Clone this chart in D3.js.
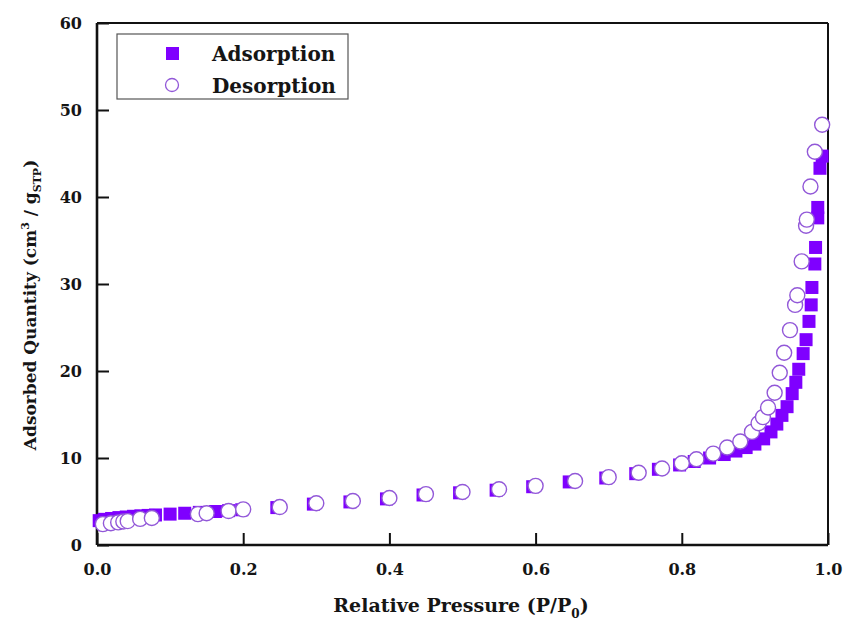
<!DOCTYPE html>
<html lang="en">
<head>
    <meta charset="UTF-8">
    <title>Isotherm</title>
    <style>
        body { margin: 0; background: #fff; }
        text { font-family: "DejaVu Serif", "Liberation Serif", serif; font-weight: bold; fill: #151515; }
    </style>
</head>
<body>
    <div id="chart"></div>
    <script src="https://d3js.org/d3.v7.min.js"></script>
    <script>
        // adsorption branch (P/P0, cm3/g STP)
        const adsP = [0.003, 0.01, 0.02, 0.03, 0.04, 0.05, 0.06, 0.07, 0.08, 0.1, 0.12, 0.14, 0.162, 0.18, 0.198,
                      0.246, 0.296, 0.346, 0.396, 0.446, 0.496, 0.546, 0.596, 0.646, 0.696, 0.737, 0.768, 0.797,
                      0.817, 0.838, 0.858, 0.874, 0.888, 0.9, 0.912, 0.922, 0.93, 0.937, 0.944, 0.951, 0.956,
                      0.96, 0.966, 0.97, 0.974, 0.977, 0.978, 0.982, 0.983, 0.986, 0.986, 0.989, 0.992];
        const adsQ = [2.8, 2.95, 3.05, 3.15, 3.22, 3.3, 3.35, 3.4, 3.45, 3.55, 3.65, 3.75, 3.85, 3.95, 4.05,
                      4.3, 4.7, 4.95, 5.3, 5.75, 6.0, 6.3, 6.7, 7.25, 7.7, 8.2, 8.7, 9.2,
                      9.6, 10.0, 10.4, 10.8, 11.2, 11.6, 12.2, 13.0, 13.9, 14.9, 15.9, 17.4, 18.7,
                      20.2, 22.0, 23.6, 25.7, 27.6, 29.6, 32.3, 34.2, 37.6, 38.8, 43.3, 44.7];

        // desorption branch
        const desP = [0.008, 0.019, 0.029, 0.036, 0.042, 0.059, 0.075, 0.138, 0.15, 0.18, 0.2,
                      0.25, 0.3, 0.35, 0.4, 0.45, 0.5, 0.55, 0.6, 0.654, 0.7, 0.741, 0.773, 0.8,
                      0.82, 0.843, 0.862, 0.88, 0.896, 0.905, 0.911, 0.918, 0.927, 0.934, 0.94, 0.948,
                      0.955, 0.958, 0.964, 0.97, 0.971, 0.976, 0.982, 0.992];
        const desQ = [2.4, 2.5, 2.6, 2.7, 2.75, 3.0, 3.1, 3.55, 3.65, 3.9, 4.1,
                      4.36, 4.8, 5.05, 5.4, 5.85, 6.1, 6.4, 6.8, 7.35, 7.8, 8.3, 8.8, 9.4,
                      9.85, 10.5, 11.2, 11.9, 13.0, 14.0, 14.7, 15.8, 17.5, 19.8, 22.1, 24.7,
                      27.6, 28.7, 32.6, 36.7, 37.4, 41.2, 45.2, 48.3];

        const xTicks = [0, 0.2, 0.4, 0.6, 0.8, 1.0];
        const yTicks = [0, 10, 20, 30, 40, 50, 60];

        const W = 845, H = 621;
        const margin = { top: 23, right: 17, bottom: 76, left: 97 },
              width = W - margin.left - margin.right,
              height = H - margin.top - margin.bottom;

        const purple = "#7f00ff";
        const ring = "#9258d8";

        const svg = d3.select("#chart")
            .append("svg")
            .attr("width", W)
            .attr("height", H);

        const g = svg.append("g")
            .attr("transform", "translate(" + margin.left + "," + margin.top + ")");

        const x = d3.scaleLinear().domain([0, 1]).range([0, width]);
        const y = d3.scaleLinear().domain([0, 60]).range([height, 0]);

        // axes with inward ticks
        const xAxis = g.append("g")
            .attr("transform", "translate(0," + height + ")")
            .call(d3.axisBottom(x).tickValues(xTicks).tickFormat(d3.format(".1f"))
                .tickSizeInner(-12).tickSizeOuter(0).tickPadding(19));
        const yAxis = g.append("g")
            .call(d3.axisLeft(y).tickValues(yTicks).tickSizeInner(-12).tickSizeOuter(0).tickPadding(15));

        [xAxis, yAxis].forEach(a => {
            a.select(".domain").remove();
            a.selectAll(".tick line").attr("stroke", "#111").attr("stroke-width", 2);
            a.selectAll(".tick text").style("font-size", "16px");
        });

        // frame
        g.append("line").attr("x1", 0).attr("x2", 0).attr("y1", 0).attr("y2", height)
            .attr("stroke", "#111").attr("stroke-width", 2.6);
        g.append("line").attr("x1", 0).attr("x2", width).attr("y1", height).attr("y2", height)
            .attr("stroke", "#111").attr("stroke-width", 2.6);
        g.append("line").attr("x1", 0).attr("x2", width).attr("y1", 0).attr("y2", 0)
            .attr("stroke", "#111").attr("stroke-width", 2);
        g.append("line").attr("x1", width).attr("x2", width).attr("y1", 0).attr("y2", height)
            .attr("stroke", "#111").attr("stroke-width", 2);

        const sq = 13;
        g.selectAll(".ads")
            .data(adsP.map((p, i) => [p, adsQ[i]]))
            .join("rect")
            .attr("class", "ads")
            .attr("x", d => x(d[0]) - sq / 2)
            .attr("y", d => y(d[1]) - sq / 2)
            .attr("width", sq)
            .attr("height", sq)
            .attr("fill", purple);

        g.selectAll(".des")
            .data(desP.map((p, i) => [p, desQ[i]]))
            .join("circle")
            .attr("class", "des")
            .attr("cx", d => x(d[0]))
            .attr("cy", d => y(d[1]))
            .attr("r", 7.5)
            .attr("fill", "#fff")
            .attr("stroke", ring)
            .attr("stroke-width", 1.4);

        // legend
        const lg = svg.append("g");
        lg.append("rect").attr("x", 117).attr("y", 34).attr("width", 231).attr("height", 65)
            .attr("fill", "#fff").attr("stroke", "#555").attr("stroke-width", 1.2);
        lg.append("rect").attr("x", 166).attr("y", 47).attr("width", 13).attr("height", 13).attr("fill", purple);
        lg.append("circle").attr("cx", 172).attr("cy", 85).attr("r", 6.5)
            .attr("fill", "#fff").attr("stroke", ring).attr("stroke-width", 1.3);
        lg.append("text").attr("x", 212).attr("y", 61).style("font-size", "20px").text("Adsorption");
        lg.append("text").attr("x", 212).attr("y", 93).style("font-size", "20px").text("Desorption");

        // axis titles
        const xt = svg.append("text")
            .attr("x", 461).attr("y", 612)
            .attr("text-anchor", "middle")
            .style("font-size", "19px");
        xt.append("tspan").text("Relative Pressure (P/P");
        xt.append("tspan").attr("dy", 6).style("font-size", "12px").text("0");
        xt.append("tspan").attr("dy", -6).text(")");

        const yt = svg.append("text")
            .attr("transform", "translate(36,305) rotate(-90)")
            .attr("text-anchor", "middle")
            .style("font-size", "17px");
        yt.append("tspan").text("Adsorbed Quantity (cm");
        yt.append("tspan").attr("dy", -7).style("font-size", "11px").text("3");
        yt.append("tspan").attr("dy", 7).text(" / g");
        yt.append("tspan").attr("dy", 5).style("font-size", "11px").text("STP");
        yt.append("tspan").attr("dy", -5).text(")");
    </script>
</body>
</html>
